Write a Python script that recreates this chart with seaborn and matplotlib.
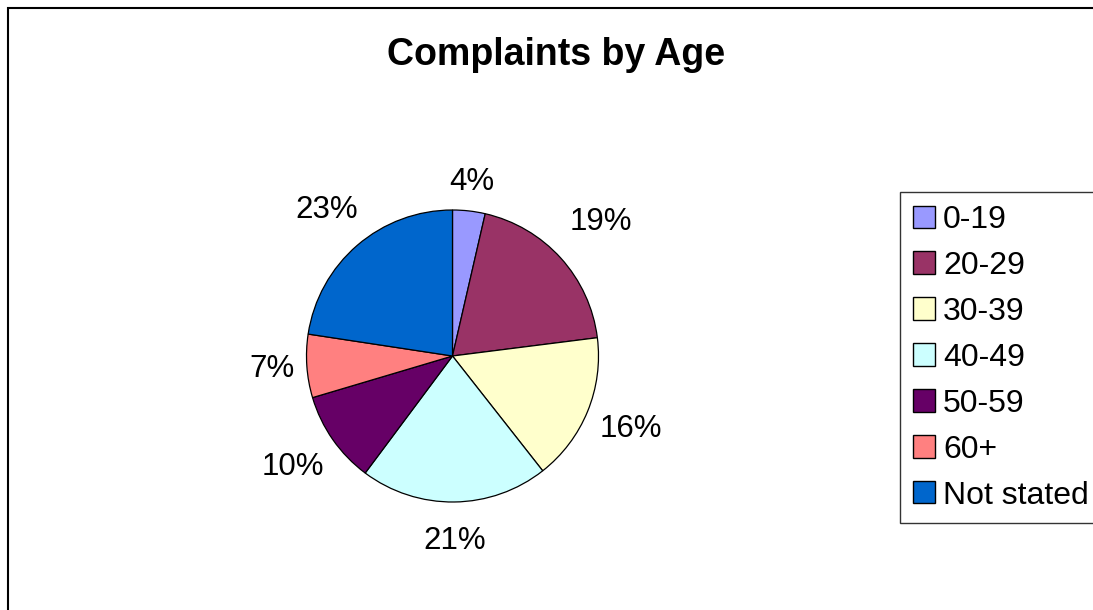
import numpy as np
import matplotlib
matplotlib.use("Agg")
import matplotlib.pyplot as plt
from matplotlib.patches import Rectangle
import seaborn as sns

# ---- data ----
categories = ["0-19", "20-29", "30-39", "40-49", "50-59", "60+", "Not stated"]
shares = [3.6, 19.4, 16.4, 20.8, 10.2, 7.0, 22.6]
colors_hex = ["#9999FF", "#993366", "#FFFFCC", "#CCFFFF", "#660066", "#FF8080", "#0066CC"]
title_text = "Complaints by Age"

# per-label radial distance (style only, Excel-like best-fit placement)
label_dist = [1.2, 1.37, 1.32, 1.265, 1.33, 1.24, 1.32]

sns.set_theme(style="white")
plt.rcParams["font.family"] = ["Liberation Sans", "DejaVu Sans"]
plt.rcParams["text.color"] = "black"

W, H = 1093, 610
fig = plt.figure(figsize=(W / 100, H / 100), dpi=100)
fig.patch.set_facecolor("white")

# pie axes: centre (452.5, 356) px, radius 146 px
cx, cy, R = 452.5, 356.0, 146.0
half = 292.0
lim = half / R
ax = fig.add_axes([(cx - half) / W, (H - cy - half) / H, 2 * half / W, 2 * half / H])

palette = sns.color_palette(colors_hex)
wedges, texts, autotexts = ax.pie(
    shares,
    colors=palette,
    startangle=90,
    counterclock=False,
    radius=1.0,
    autopct="%.0f%%",
    pctdistance=1.25,
    wedgeprops=dict(edgecolor="black", linewidth=0.9),
    textprops=dict(fontsize=22.5, color="black"),
)
ax.set_xlim(-lim, lim)
ax.set_ylim(-lim, lim)
ax.set_aspect("equal")
ax.axis("off")

for w, t, d in zip(wedges, autotexts, label_dist):
    mid = np.deg2rad((w.theta1 + w.theta2) / 2.0)
    t.set_position((d * np.cos(mid), d * np.sin(mid)))
    t.set_ha("center")
    t.set_va("center")

fig.text(556.5 / W, 1 - 55 / H, title_text, ha="center", va="center",
         fontsize=27, fontweight="bold", color="black")

leg = fig.legend(
    wedges, categories,
    loc="upper left",
    bbox_to_anchor=(900 / W, 1 - 192 / H),
    bbox_transform=fig.transFigure,
    borderaxespad=0,
    fontsize=23,
    frameon=True,
    fancybox=False,
    handlelength=0.69,
    handleheight=0.69,
    handletextpad=0.26,
    labelspacing=0.5,
    borderpad=0.4,
)
leg.get_frame().set_edgecolor("black")
leg.get_frame().set_linewidth(1.0)
for txt in leg.get_texts():
    txt.set_color("black")
for h in leg.legend_handles:
    h.set_edgecolor("black")
    h.set_linewidth(1.0)

# chart area border (extends past bottom/right edges)
fig.patches.append(Rectangle((8 / W, -0.2), 1.3, 1.2 - 8 / H,
                             transform=fig.transFigure, fill=False,
                             edgecolor="black", linewidth=1.5))

fig.savefig("out.png", dpi=100, facecolor="white")
